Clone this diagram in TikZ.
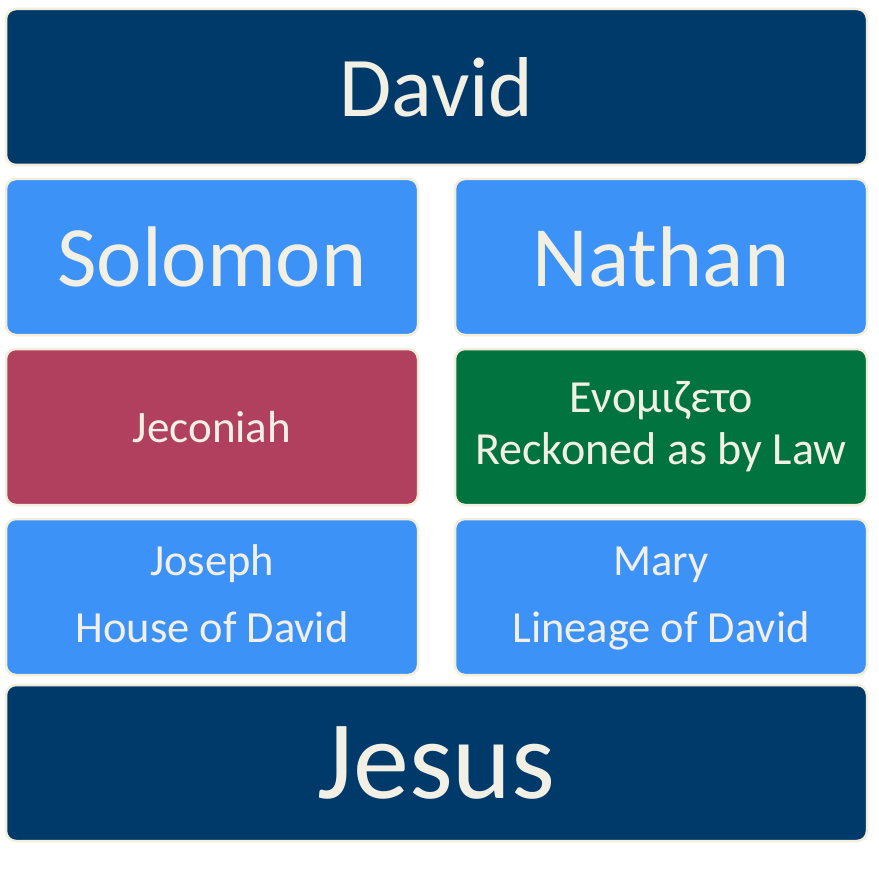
\documentclass[tikz,border=0pt]{standalone}
\usepackage{fontspec}
\setmainfont{Carlito}
\usetikzlibrary{positioning}
\definecolor{cnavy}{RGB}{0,58,107}
\definecolor{cblue}{RGB}{61,146,247}
\definecolor{cred}{RGB}{176,64,94}
\definecolor{cgreen}{RGB}{0,115,62}
\definecolor{ctext}{RGB}{242,240,228}
\definecolor{cedge}{RGB}{242,238,218}
\begin{document}
\begin{tikzpicture}[
            box/.style={rounded corners=10pt, draw=cedge, line width=2.5pt, text=ctext,
                        align=center, inner sep=0pt, outer sep=0pt},
            wide/.style={box, fill=cnavy, minimum width=861pt, minimum height=156pt},
            half/.style={box, minimum width=412pt, minimum height=156pt}
          ]
          \useasboundingbox[fill=white] (0pt,0pt) rectangle (878pt,-885pt);
          \node[wide, font=\fontsize{85}{94}\selectfont] (david) at (436.5pt,-87pt) {David};
          \node[half, fill=cblue, font=\fontsize{86}{96}\selectfont,
                below right=14pt and 0pt of david.south west] (solomon) {Solomon};
          \node[half, fill=cblue, font=\fontsize{86}{96}\selectfont,
                below left=14pt and 0pt of david.south east]  (nathan)  {Nathan};
          \node[half, fill=cred, font=\fontsize{45}{52}\selectfont,
                below=14pt of solomon] (jeconiah) {Jeconiah};
          \node[half, fill=cgreen, font=\fontsize{46}{52}\selectfont,
                below=14pt of nathan]  (enom) {Ενομιζετο\\Reckoned as by Law};
          \node[half, fill=cblue, font=\fontsize{44.5}{67}\selectfont,
                below=14pt of jeconiah] (joseph) {Joseph\\House of David\vphantom{g}};
          \node[half, fill=cblue, font=\fontsize{44.5}{67}\selectfont,
                below=14pt of enom]     (mary)   {Mary\vphantom{h}\\Lineage of David};
          \node[wide, font=\fontsize{112}{124}\selectfont,
                below right=10pt and 0pt of joseph.south west] (jesus) {Jesus};
        \end{tikzpicture}
\end{document}
